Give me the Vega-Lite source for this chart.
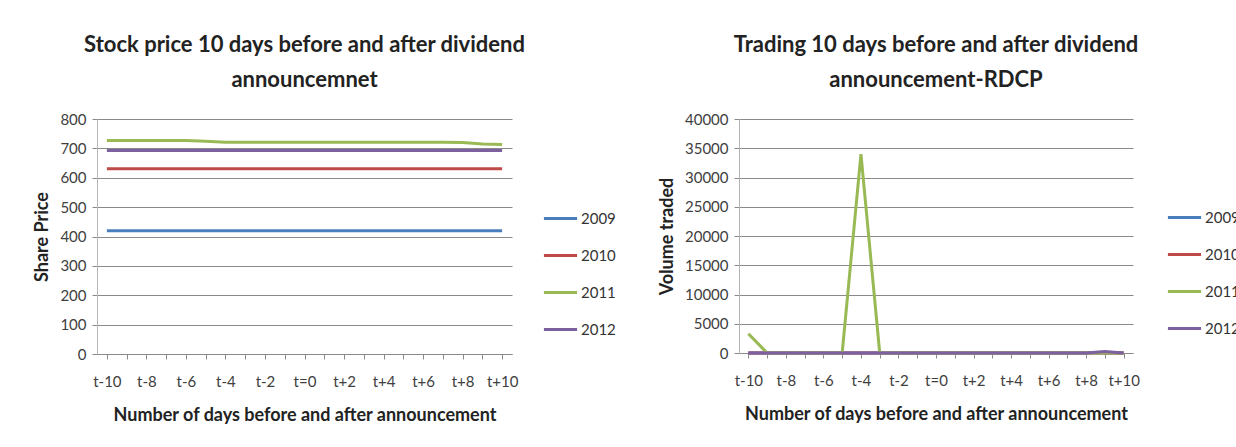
{
  "$schema": "https://vega.github.io/schema/vega-lite/v6.json",
  "background": "white",
  "padding": {"left": 33, "top": 34, "right": 0, "bottom": 0},
  "datasets": {
    "price": [
      {"day":"t-10","year":"2009","value":420},{"day":"t-9","year":"2009","value":420},{"day":"t-8","year":"2009","value":420},{"day":"t-7","year":"2009","value":420},{"day":"t-6","year":"2009","value":420},{"day":"t-5","year":"2009","value":420},{"day":"t-4","year":"2009","value":420},{"day":"t-3","year":"2009","value":420},{"day":"t-2","year":"2009","value":420},{"day":"t-1","year":"2009","value":420},{"day":"t=0","year":"2009","value":420},{"day":"t+1","year":"2009","value":420},{"day":"t+2","year":"2009","value":420},{"day":"t+3","year":"2009","value":420},{"day":"t+4","year":"2009","value":420},{"day":"t+5","year":"2009","value":420},{"day":"t+6","year":"2009","value":420},{"day":"t+7","year":"2009","value":420},{"day":"t+8","year":"2009","value":420},{"day":"t+9","year":"2009","value":420},{"day":"t+10","year":"2009","value":420},
      {"day":"t-10","year":"2010","value":631},{"day":"t-9","year":"2010","value":631},{"day":"t-8","year":"2010","value":631},{"day":"t-7","year":"2010","value":631},{"day":"t-6","year":"2010","value":631},{"day":"t-5","year":"2010","value":631},{"day":"t-4","year":"2010","value":631},{"day":"t-3","year":"2010","value":631},{"day":"t-2","year":"2010","value":631},{"day":"t-1","year":"2010","value":631},{"day":"t=0","year":"2010","value":631},{"day":"t+1","year":"2010","value":631},{"day":"t+2","year":"2010","value":631},{"day":"t+3","year":"2010","value":631},{"day":"t+4","year":"2010","value":631},{"day":"t+5","year":"2010","value":631},{"day":"t+6","year":"2010","value":631},{"day":"t+7","year":"2010","value":631},{"day":"t+8","year":"2010","value":631},{"day":"t+9","year":"2010","value":631},{"day":"t+10","year":"2010","value":631},
      {"day":"t-10","year":"2011","value":727},{"day":"t-9","year":"2011","value":727},{"day":"t-8","year":"2011","value":727},{"day":"t-7","year":"2011","value":727},{"day":"t-6","year":"2011","value":727},{"day":"t-5","year":"2011","value":724},{"day":"t-4","year":"2011","value":721},{"day":"t-3","year":"2011","value":721},{"day":"t-2","year":"2011","value":721},{"day":"t-1","year":"2011","value":721},{"day":"t=0","year":"2011","value":721},{"day":"t+1","year":"2011","value":721},{"day":"t+2","year":"2011","value":721},{"day":"t+3","year":"2011","value":721},{"day":"t+4","year":"2011","value":721},{"day":"t+5","year":"2011","value":721},{"day":"t+6","year":"2011","value":721},{"day":"t+7","year":"2011","value":721},{"day":"t+8","year":"2011","value":720},{"day":"t+9","year":"2011","value":715},{"day":"t+10","year":"2011","value":713},
      {"day":"t-10","year":"2012","value":693},{"day":"t-9","year":"2012","value":693},{"day":"t-8","year":"2012","value":693},{"day":"t-7","year":"2012","value":693},{"day":"t-6","year":"2012","value":693},{"day":"t-5","year":"2012","value":693},{"day":"t-4","year":"2012","value":693},{"day":"t-3","year":"2012","value":693},{"day":"t-2","year":"2012","value":693},{"day":"t-1","year":"2012","value":693},{"day":"t=0","year":"2012","value":693},{"day":"t+1","year":"2012","value":693},{"day":"t+2","year":"2012","value":693},{"day":"t+3","year":"2012","value":693},{"day":"t+4","year":"2012","value":693},{"day":"t+5","year":"2012","value":693},{"day":"t+6","year":"2012","value":693},{"day":"t+7","year":"2012","value":693},{"day":"t+8","year":"2012","value":693},{"day":"t+9","year":"2012","value":693},{"day":"t+10","year":"2012","value":693}
    ],
    "volume": [
      {"day":"t-10","year":"2009","value":0},{"day":"t-9","year":"2009","value":0},{"day":"t-8","year":"2009","value":0},{"day":"t-7","year":"2009","value":0},{"day":"t-6","year":"2009","value":0},{"day":"t-5","year":"2009","value":0},{"day":"t-4","year":"2009","value":0},{"day":"t-3","year":"2009","value":0},{"day":"t-2","year":"2009","value":0},{"day":"t-1","year":"2009","value":0},{"day":"t=0","year":"2009","value":0},{"day":"t+1","year":"2009","value":0},{"day":"t+2","year":"2009","value":0},{"day":"t+3","year":"2009","value":0},{"day":"t+4","year":"2009","value":0},{"day":"t+5","year":"2009","value":0},{"day":"t+6","year":"2009","value":0},{"day":"t+7","year":"2009","value":0},{"day":"t+8","year":"2009","value":0},{"day":"t+9","year":"2009","value":0},{"day":"t+10","year":"2009","value":0},
      {"day":"t-10","year":"2010","value":0},{"day":"t-9","year":"2010","value":0},{"day":"t-8","year":"2010","value":0},{"day":"t-7","year":"2010","value":0},{"day":"t-6","year":"2010","value":0},{"day":"t-5","year":"2010","value":0},{"day":"t-4","year":"2010","value":0},{"day":"t-3","year":"2010","value":0},{"day":"t-2","year":"2010","value":0},{"day":"t-1","year":"2010","value":0},{"day":"t=0","year":"2010","value":0},{"day":"t+1","year":"2010","value":0},{"day":"t+2","year":"2010","value":0},{"day":"t+3","year":"2010","value":0},{"day":"t+4","year":"2010","value":0},{"day":"t+5","year":"2010","value":0},{"day":"t+6","year":"2010","value":0},{"day":"t+7","year":"2010","value":0},{"day":"t+8","year":"2010","value":0},{"day":"t+9","year":"2010","value":0},{"day":"t+10","year":"2010","value":0},
      {"day":"t-10","year":"2011","value":3300},{"day":"t-9","year":"2011","value":0},{"day":"t-8","year":"2011","value":0},{"day":"t-7","year":"2011","value":0},{"day":"t-6","year":"2011","value":0},{"day":"t-5","year":"2011","value":0},{"day":"t-4","year":"2011","value":34000},{"day":"t-3","year":"2011","value":0},{"day":"t-2","year":"2011","value":0},{"day":"t-1","year":"2011","value":0},{"day":"t=0","year":"2011","value":0},{"day":"t+1","year":"2011","value":0},{"day":"t+2","year":"2011","value":0},{"day":"t+3","year":"2011","value":0},{"day":"t+4","year":"2011","value":0},{"day":"t+5","year":"2011","value":0},{"day":"t+6","year":"2011","value":0},{"day":"t+7","year":"2011","value":0},{"day":"t+8","year":"2011","value":0},{"day":"t+9","year":"2011","value":0},{"day":"t+10","year":"2011","value":0},
      {"day":"t-10","year":"2012","value":0},{"day":"t-9","year":"2012","value":0},{"day":"t-8","year":"2012","value":0},{"day":"t-7","year":"2012","value":0},{"day":"t-6","year":"2012","value":0},{"day":"t-5","year":"2012","value":0},{"day":"t-4","year":"2012","value":0},{"day":"t-3","year":"2012","value":0},{"day":"t-2","year":"2012","value":0},{"day":"t-1","year":"2012","value":0},{"day":"t=0","year":"2012","value":0},{"day":"t+1","year":"2012","value":0},{"day":"t+2","year":"2012","value":0},{"day":"t+3","year":"2012","value":0},{"day":"t+4","year":"2012","value":0},{"day":"t+5","year":"2012","value":0},{"day":"t+6","year":"2012","value":0},{"day":"t+7","year":"2012","value":0},{"day":"t+8","year":"2012","value":0},{"day":"t+9","year":"2012","value":250},{"day":"t+10","year":"2012","value":0}
    ]
  },
  "config": {
    "font": "Lato",
    "view": {"stroke": null},
    "title": {"font": "Lato", "fontSize": 22, "fontWeight": "bold", "color": "#222222", "lineHeight": 35, "anchor": "middle", "offset": 20},
    "axis": {"labelFont": "Lato", "labelFontSize": 15, "labelColor": "#404040", "titleFont": "Lato", "titleFontSize": 18, "titleFontWeight": "bold", "titleColor": "#222222", "domainColor": "#8a8a8a", "tickColor": "#8a8a8a", "gridColor": "#8a8a8a", "tickSize": 5},
    "legend": {"labelFont": "Lato", "labelFontSize": 15, "labelColor": "#333333", "symbolType": "stroke", "symbolSize": 1100, "symbolStrokeWidth": 3, "rowPadding": 10, "labelOffset": 2}
  },
  "spacing": 42,
  "resolve": {"scale": {"color": "independent", "y": "independent", "x": "independent"}, "legend": {"color": "independent"}},
  "hconcat": [
    {
      "title": {"text": ["Stock price 10 days before and after dividend", "announcemnet"]},
      "width": 415,
      "height": 235,
      "data": {"name": "price"},
      "mark": {"type": "line", "strokeWidth": 3},
      "encoding": {
        "x": {"field": "day", "type": "ordinal",
          "sort": ["t-10","t-9","t-8","t-7","t-6","t-5","t-4","t-3","t-2","t-1","t=0","t+1","t+2","t+3","t+4","t+5","t+6","t+7","t+8","t+9","t+10"],
          "scale": {"type": "point", "padding": 0.5},
          "axis": {"title": "Number of days before and after announcement", "labelAngle": 0, "labelPadding": 15, "titlePadding": 17,
            "labelExpr": "indexof(['t-10','t-8','t-6','t-4','t-2','t=0','t+2','t+4','t+6','t+8','t+10'], datum.value) >= 0 ? datum.label : ''"}},
        "y": {"field": "value", "type": "quantitative", "scale": {"domain": [0, 800]},
          "axis": {"title": "Share Price", "values": [0,100,200,300,400,500,600,700,800], "format": "d", "grid": true, "labelPadding": 6, "titlePadding": 8, "domainColor": "#b5b5b5"}},
        "color": {"field": "year", "type": "nominal",
          "scale": {"domain": ["2009","2010","2011","2012"], "range": ["#4a7ebb","#be4b48","#98b954","#7d60a0"]},
          "legend": {"title": null, "orient": "none", "legendX": 445, "legendY": 81}}
      }
    },
    {
      "title": {"text": ["Trading 10 days before and after dividend", "announcement-RDCP"]},
      "width": 394,
      "height": 234,
      "data": {"name": "volume"},
      "mark": {"type": "line", "strokeWidth": 3},
      "encoding": {
        "x": {"field": "day", "type": "ordinal",
          "sort": ["t-10","t-9","t-8","t-7","t-6","t-5","t-4","t-3","t-2","t-1","t=0","t+1","t+2","t+3","t+4","t+5","t+6","t+7","t+8","t+9","t+10"],
          "scale": {"type": "point", "padding": 0.5},
          "axis": {"title": "Number of days before and after announcement", "labelAngle": 0, "labelPadding": 15, "titlePadding": 17,
            "labelExpr": "indexof(['t-10','t-8','t-6','t-4','t-2','t=0','t+2','t+4','t+6','t+8','t+10'], datum.value) >= 0 ? datum.label : ''"}},
        "y": {"field": "value", "type": "quantitative", "scale": {"domain": [0, 40000]},
          "axis": {"title": "Volume traded", "values": [0,5000,10000,15000,20000,25000,30000,35000,40000], "format": "d", "grid": true, "labelPadding": 6, "titlePadding": 8, "domainColor": "#b5b5b5"}},
        "color": {"field": "year", "type": "nominal",
          "scale": {"domain": ["2009","2010","2011","2012"], "range": ["#4a7ebb","#be4b48","#98b954","#7d60a0"]},
          "legend": {"title": null, "orient": "none", "legendX": 427, "legendY": 80}}
      }
    }
  ]
}
